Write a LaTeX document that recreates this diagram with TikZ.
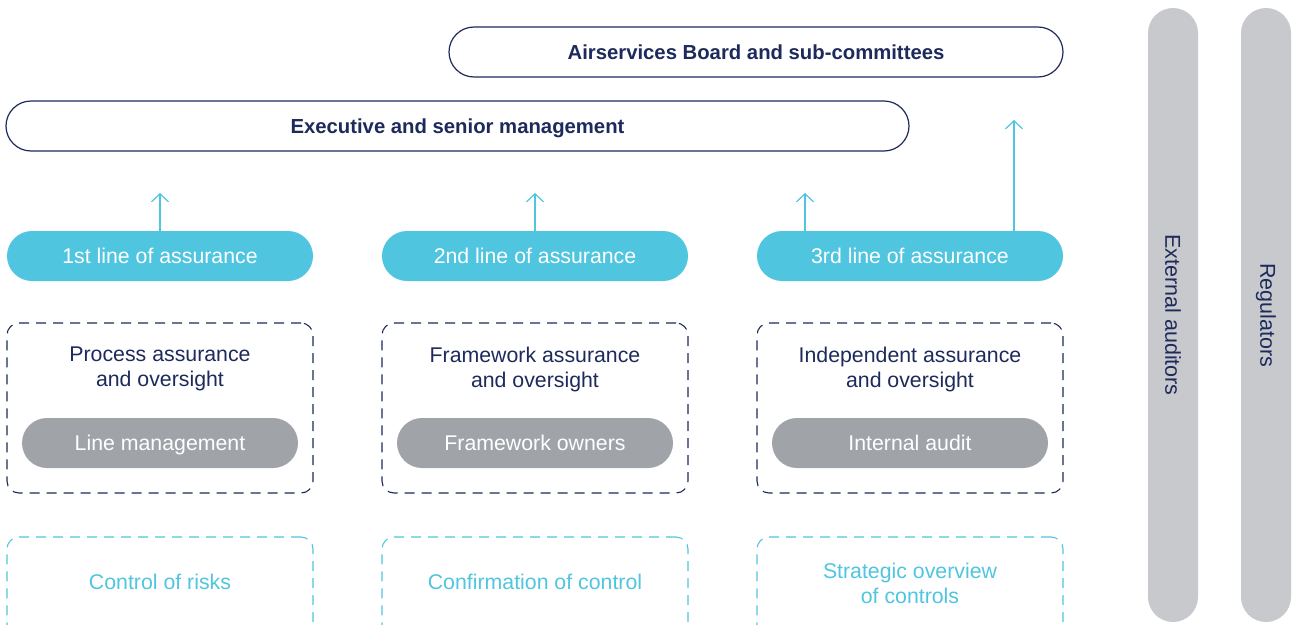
\documentclass[tikz,border=0pt]{standalone}
\usepackage{fontspec}
\setmainfont{Liberation Sans}
\usetikzlibrary{arrows.meta}
\definecolor{navy}{HTML}{1D2A5B}
\definecolor{cyanc}{HTML}{50C5DF}
\definecolor{greyc}{HTML}{A0A4A9}
\definecolor{barc}{HTML}{C8C9CC}
\begin{document}
\begin{tikzpicture}[x=1pt,y=-1pt,
  txt/.style={font=\fontsize{21.3}{25}\selectfont, align=center},
  pill/.style={txt, rounded corners=25pt, minimum height=50pt, inner sep=0pt, text height=17pt, text depth=2pt},
  outlinepill/.style={pill, draw=navy, line width=1.2pt, fill=white, text=navy, font=\fontsize{20.3}{25}\selectfont\bfseries},
  cyanpill/.style={pill, fill=cyanc, text=white, minimum width=306pt},
  greypill/.style={pill, fill=greyc, text=white, minimum width=276pt},
  navybox/.style={draw=navy, line width=1.1pt, dash pattern=on 10pt off 7pt, rounded corners=12pt, minimum width=306pt, minimum height=170pt, inner sep=0pt},
  cyanbox/.style={draw=cyanc, line width=1.1pt, dash pattern=on 10pt off 7pt, rounded corners=12pt, minimum width=306pt, minimum height=150pt, inner sep=0pt},
  bar/.style={fill=barc, rounded corners=25pt, minimum width=50pt, minimum height=614pt, inner sep=0pt},
  bartext/.style={txt, text=navy, rotate=-90, font=\fontsize{21.5}{25}\selectfont},
  uparrow/.style={draw=cyanc, line width=1.2pt, -{Straight Barb[length=8pt,width=17pt]}}
]
\useasboundingbox (0,0) rectangle (1293,624);
\clip (0,0) rectangle (1293,624);

% top boxes
\node[outlinepill, minimum width=614pt] (board) at (756,52) {Airservices Board and sub-committees};
\node[outlinepill, minimum width=903pt] (exec) at (457.5,126) {Executive and senior management};

% lines of assurance
\node[cyanpill] (l1) at (160,256) {1st line of assurance};
\node[cyanpill] (l2) at (535,256) {2nd line of assurance};
\node[cyanpill] (l3) at (910,256) {3rd line of assurance};

% arrow ends
\coordinate (a1) at (160,193);
\coordinate (a2) at (535,193);
\coordinate (a3) at (805,193);
\coordinate (a4) at (1014,120);
\draw[uparrow] (l1.north) -- (a1);
\draw[uparrow] (l2.north) -- (a2);
\draw[uparrow] (a3 |- l3.north) -- (a3);
\draw[uparrow] (a4 |- l3.north) -- (a4);

% dashed navy boxes
\node[navybox] (b1) at (160,408) {};
\node[navybox] (b2) at (535,408) {};
\node[navybox] (b3) at (910,408) {};
\node[txt, text=navy] (t1) at (160,369) {Process assurance\\and oversight};
\node[txt, text=navy] (t2) at (535,369) {Framework assurance\\and oversight};
\node[txt, text=navy] (t3) at (910,369) {Independent assurance\\and oversight};
\node[greypill] (g1) at (160,443) {Line management};
\node[greypill] (g2) at (535,443) {Framework owners};
\node[greypill] (g3) at (910,443) {Internal audit};

% dashed cyan boxes
\node[cyanbox] (c1) at (160,612) {};
\node[cyanbox] (c2) at (535,612) {};
\node[cyanbox] (c3) at (910,612) {};
\node[txt, text=cyanc] (ct1) at (160,582) {Control of risks};
\node[txt, text=cyanc] (ct2) at (535,582) {Confirmation of control};
\node[txt, text=cyanc] (ct3) at (910,583) {Strategic overview\\of controls};

% side bars
\node[bar] (ext) at (1173,315) {};
\node[bar] (reg) at (1266,315) {};
\node[bartext] (extt) at (ext.center) {External auditors};
\node[bartext] (regt) at (reg.center) {Regulators};
\end{tikzpicture}
\end{document}
